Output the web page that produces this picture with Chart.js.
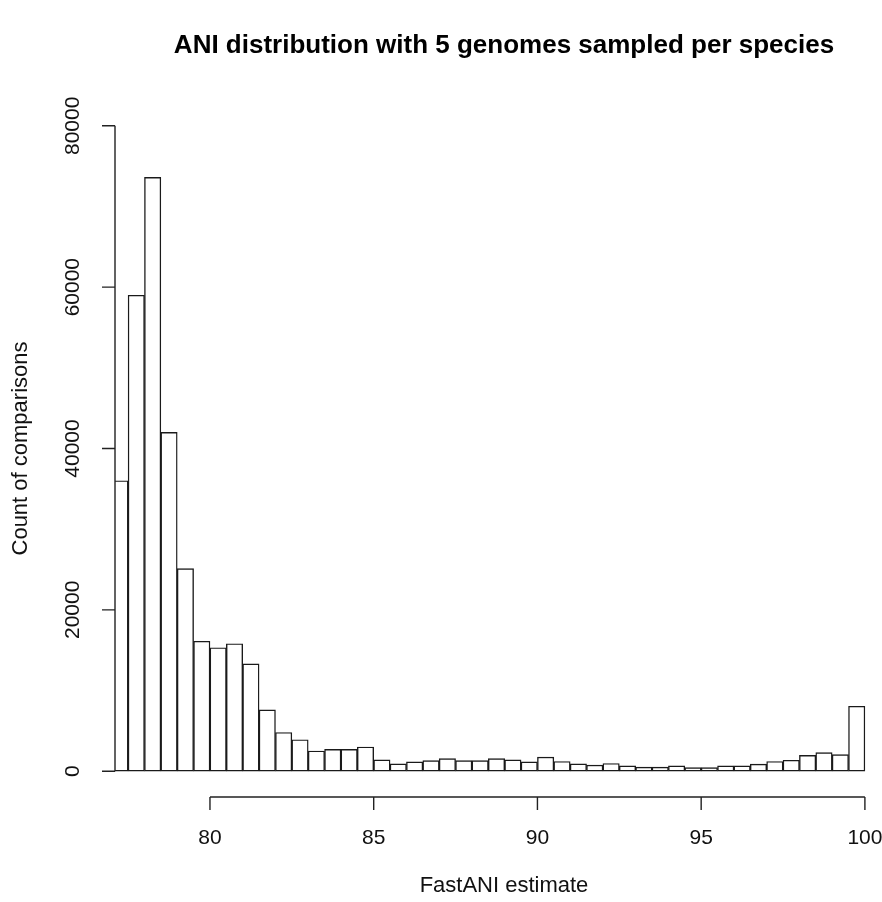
<!DOCTYPE html>
<html>
<head>
<meta charset="utf-8">
<script src="https://cdn.jsdelivr.net/npm/chart.js@4/dist/chart.umd.min.js"></script>
<style>
  html, body { margin: 0; padding: 0; background: #fff; }
  #wrap { width: 882px; height: 902px; }
</style>
</head>
<body>
<div id="wrap"><canvas id="hist" width="882" height="902"></canvas></div>
<script>
// histogram bins (lower edges, width 0.5) and counts
const binWidth = 0.5;
const binStarts = [
  77.0, 77.5, 78.0, 78.5, 79.0, 79.5, 80.0, 80.5, 81.0, 81.5,
  82.0, 82.5, 83.0, 83.5, 84.0, 84.5, 85.0, 85.5, 86.0, 86.5,
  87.0, 87.5, 88.0, 88.5, 89.0, 89.5, 90.0, 90.5, 91.0, 91.5,
  92.0, 92.5, 93.0, 93.5, 94.0, 94.5, 95.0, 95.5, 96.0, 96.5,
  97.0, 97.5, 98.0, 98.5, 99.0, 99.5
];
const counts = [
  36000, 59000, 73600, 42000, 25100, 16100, 15300, 15800, 13300, 7600,
  4800, 3900, 2500, 2700, 2700, 3000, 1400, 900, 1150, 1300,
  1550, 1300, 1300, 1550, 1400, 1150, 1750, 1200, 900, 750,
  950, 650, 500, 500, 650, 450, 450, 650, 650, 870,
  1200, 1350, 1950, 2300, 2050, 8050
];
const xTicks = [80, 85, 90, 95, 100];
const yTicks = [0, 20000, 40000, 60000, 80000];

const titleText = "ANI distribution with 5 genomes sampled per species";
const xTitle = "FastANI estimate";
const yTitle = "Count of comparisons";

const points = binStarts.map((b, i) => ({ x: b + binWidth / 2, y: counts[i] }));

// R style axes: y axis only spans the tick range, x axis sits below the bars
const baseAxes = {
  id: "baseAxes",
  afterDraw(chart) {
    const ctx = chart.ctx;
    const xs = chart.scales.x;
    const ys = chart.scales.y;
    const area = chart.chartArea;
    ctx.save();
    ctx.strokeStyle = "#222";
    ctx.fillStyle = "#111";
    ctx.lineWidth = 1.4;

    // y axis
    const yx = area.left;
    ctx.beginPath();
    ctx.moveTo(yx, ys.getPixelForValue(yTicks[0]));
    ctx.lineTo(yx, ys.getPixelForValue(yTicks[yTicks.length - 1]));
    yTicks.forEach((t) => {
      const py = ys.getPixelForValue(t);
      ctx.moveTo(yx, py);
      ctx.lineTo(yx - 13, py);
    });
    ctx.stroke();

    ctx.font = "21px 'Liberation Sans', Arial, sans-serif";
    ctx.textAlign = "center";
    ctx.textBaseline = "middle";
    yTicks.forEach((t) => {
      const py = ys.getPixelForValue(t);
      ctx.save();
      ctx.translate(73, py);
      ctx.rotate(-Math.PI / 2);
      ctx.fillText(String(t), 0, 0);
      ctx.restore();
    });

    // x axis
    const xy = area.bottom;
    ctx.beginPath();
    ctx.moveTo(xs.getPixelForValue(xTicks[0]), xy);
    ctx.lineTo(xs.getPixelForValue(xTicks[xTicks.length - 1]), xy);
    xTicks.forEach((t) => {
      const px = xs.getPixelForValue(t);
      ctx.moveTo(px, xy);
      ctx.lineTo(px, xy + 13);
    });
    ctx.stroke();
    xTicks.forEach((t) => {
      ctx.fillText(String(t), xs.getPixelForValue(t), 838);
    });

    // axis titles
    ctx.font = "22px 'Liberation Sans', Arial, sans-serif";
    ctx.fillText(xTitle, 504, 886);
    ctx.save();
    ctx.translate(21, (area.top + area.bottom) / 2);
    ctx.rotate(-Math.PI / 2);
    ctx.fillText(yTitle, 0, 0);
    ctx.restore();

    // main title
    ctx.font = "bold 26px 'Liberation Sans', Arial, sans-serif";
    ctx.fillStyle = "#000";
    ctx.fillText(titleText, 504, 46);
    ctx.restore();
  }
};

new Chart(document.getElementById("hist"), {
  type: "bar",
  data: {
    datasets: [
      {
        data: points,
        backgroundColor: "#ffffff",
        borderColor: "#1a1a1a",
        borderWidth: 1.4,
        borderSkipped: false,
        barPercentage: 1,
        categoryPercentage: 1
      }
    ]
  },
  options: {
    responsive: false,
    animation: false,
    events: [],
    layout: { padding: { left: 115, top: 100, right: 4, bottom: 105 } },
    plugins: {
      legend: { display: false },
      title: { display: false },
      tooltip: { enabled: false }
    },
    scales: {
      x: { type: "linear", min: 77.1, max: 100.4, offset: false, display: false },
      y: { type: "linear", min: -3200, max: 83200, display: false }
    }
  },
  plugins: [baseAxes]
});
</script>
</body>
</html>
